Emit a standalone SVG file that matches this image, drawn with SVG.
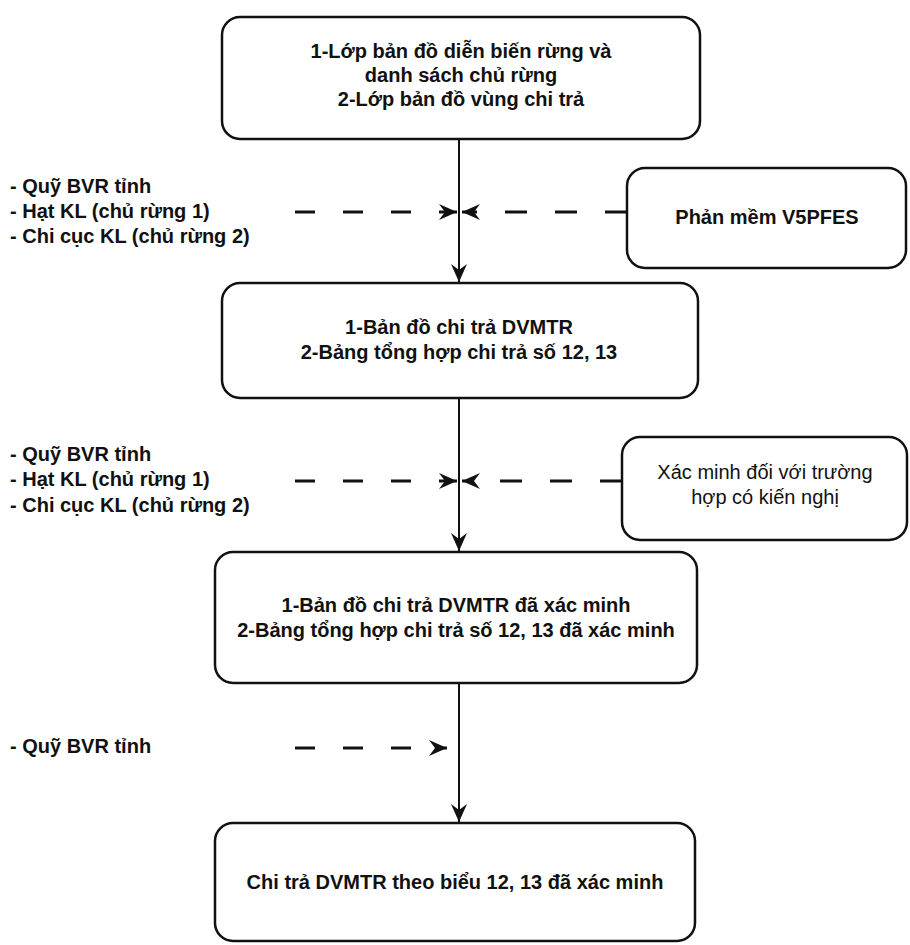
<svg xmlns="http://www.w3.org/2000/svg" width="910" height="945" viewBox="0 0 910 945">
<style>
  .box{fill:#fff;stroke:#111;stroke-width:2.5}
  .t{font-family:"Liberation Sans",Arial,sans-serif;font-size:20px;font-weight:bold;fill:#111;text-anchor:middle}
  .tr{font-family:"Liberation Sans",Arial,sans-serif;font-size:20px;fill:#111;text-anchor:middle}
  .lbl{font-family:"Liberation Sans",Arial,sans-serif;font-size:20px;font-weight:bold;fill:#111}
  .v{stroke:#111;stroke-width:2;fill:none}
  .d{stroke:#111;stroke-width:3;fill:none}
</style>
<defs>
  <marker id="ah" markerUnits="userSpaceOnUse" markerWidth="22" markerHeight="18" viewBox="-20 -9 22 18" refX="0" refY="0" orient="auto">
    <path d="M0,0 L-18,-8 L-12,0 L-18,8 Z" fill="#111"/>
  </marker>
</defs>
<rect width="910" height="945" fill="#fff"/>

<g id="connectors">
  <line class="v" x1="459" y1="139" x2="459" y2="282" marker-end="url(#ah)"/>
  <line class="v" x1="459" y1="399" x2="459" y2="551" marker-end="url(#ah)"/>
  <line class="v" x1="459" y1="684" x2="459" y2="822" marker-end="url(#ah)"/>
  <line class="d" x1="295" y1="212" x2="457" y2="212" stroke-dasharray="20 28" marker-end="url(#ah)"/>
  <line class="d" x1="627" y1="212" x2="462" y2="212" stroke-dasharray="22 28" marker-end="url(#ah)"/>
  <line class="d" x1="295" y1="481" x2="457" y2="481" stroke-dasharray="20 28" marker-end="url(#ah)"/>
  <line class="d" x1="622" y1="481" x2="462" y2="481" stroke-dasharray="22 28" marker-end="url(#ah)"/>
  <line class="d" x1="295" y1="748" x2="447" y2="748" stroke-dasharray="20 28" marker-end="url(#ah)"/>
</g>

<g id="node1">
  <rect class="box" x="222" y="17" width="478" height="122" rx="18"/>
  <text class="t" x="461" y="58">1-Lớp bản đồ diễn biến rừng và</text>
  <text class="t" x="461" y="82">danh sách chủ rừng</text>
  <text class="t" x="461" y="106">2-Lớp bản đồ vùng chi trả</text>
</g>

<g id="node-v5pfes">
  <rect class="box" x="627" y="168" width="279" height="100" rx="18"/>
  <text class="t" x="767" y="224">Phản mềm V5PFES</text>
</g>

<g id="label1">
  <text class="lbl" x="10" y="193">- Quỹ BVR tỉnh</text>
  <text class="lbl" x="10" y="218">- Hạt KL (chủ rừng 1)</text>
  <text class="lbl" x="10" y="243">- Chi cục KL (chủ rừng 2)</text>
</g>

<g id="node2">
  <rect class="box" x="222" y="283" width="476" height="115" rx="18"/>
  <text class="t" x="459" y="334">1-Bản đồ chi trả DVMTR</text>
  <text class="t" x="459" y="359">2-Bảng tổng hợp chi trả số 12, 13</text>
</g>

<g id="node-xacminh">
  <rect class="box" x="622" y="437" width="285" height="103" rx="18"/>
  <text class="tr" x="765" y="479">Xác minh đối với trường</text>
  <text class="tr" x="765" y="504">hợp có kiến nghị</text>
</g>

<g id="label2">
  <text class="lbl" x="10" y="461">- Quỹ BVR tỉnh</text>
  <text class="lbl" x="10" y="486">- Hạt KL (chủ rừng 1)</text>
  <text class="lbl" x="10" y="512">- Chi cục KL (chủ rừng 2)</text>
</g>

<g id="node3">
  <rect class="box" x="215" y="552" width="482" height="131" rx="18"/>
  <text class="t" x="456" y="612">1-Bản đồ chi trả DVMTR đã xác minh</text>
  <text class="t" x="456" y="637">2-Bảng tổng hợp chi trả số 12, 13 đã xác minh</text>
</g>

<g id="label3">
  <text class="lbl" x="10" y="753">- Quỹ BVR tỉnh</text>
</g>

<g id="node4">
  <rect class="box" x="215" y="823" width="480" height="118" rx="18"/>
  <text class="t" x="455" y="889">Chi trả DVMTR theo biểu 12, 13 đã xác minh</text>
</g>
</svg>
